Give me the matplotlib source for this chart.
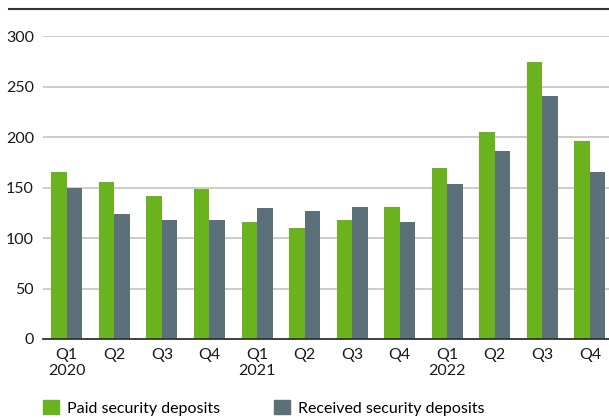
import matplotlib.pyplot as plt
from matplotlib.lines import Line2D
from matplotlib.patches import Patch
import numpy as np

plt.rcParams['font.family'] = ['Lato', 'DejaVu Sans']

quarters = ['Q1\n2020', 'Q2', 'Q3', 'Q4',
            'Q1\n2021', 'Q2', 'Q3', 'Q4',
            'Q1\n2022', 'Q2', 'Q3', 'Q4']
paid = [166, 156, 142, 149, 116, 110, 118, 131, 170, 205, 275, 196]
received = [150, 124, 118, 118, 130, 127, 131, 116, 154, 186, 241, 166]

green = '#6ab31f'
grey = '#5c7079'

fig = plt.figure(figsize=(6.09, 4.18), dpi=100)
ax = fig.add_axes([43 / 609, 1 - 339 / 418, 1 - 43 / 609, (339 - 36.5) / 418])

x = np.arange(len(quarters))
w = 0.326
ax.bar(x - w / 2, paid, width=w, color=green, zorder=3)
ax.bar(x + w / 2, received, width=w, color=grey, zorder=3)

ax.set_xlim(-0.5, 11.4)
ax.set_ylim(0, 300)
ax.set_yticks(range(0, 301, 50))
ax.set_xticks(x)
ax.set_xticklabels(quarters, linespacing=1.2)
ax.tick_params(axis='both', length=0, labelsize=11.5, colors='#1a1a1a', pad=6.5)
ax.yaxis.grid(True, color='#c8c8c8', linewidth=1.3, zorder=0)
ax.set_axisbelow(True)
for side in ['left', 'right', 'top']:
    ax.spines[side].set_visible(False)
ax.spines['bottom'].set_color('#333333')
ax.spines['bottom'].set_linewidth(1.3)
ax.spines['bottom'].set_zorder(4)

# rule across the top of the figure
fig.add_artist(Line2D([9 / 609, 1], [1 - 9 / 418, 1 - 9 / 418],
                      color='#333333', linewidth=1.5))

handles = [Patch(color=green, label='Paid security deposits'),
           Patch(color=grey, label='Received security deposits')]
fig.legend(handles=handles, loc='upper left', ncol=2,
           bbox_to_anchor=(43 / 609, 1 - 400 / 418), frameon=False,
           fontsize=11.5, handlelength=1.0, handleheight=1.0,
           handletextpad=0.5, columnspacing=3.4, borderpad=0, borderaxespad=0)

fig.savefig('out.png', dpi=100)
